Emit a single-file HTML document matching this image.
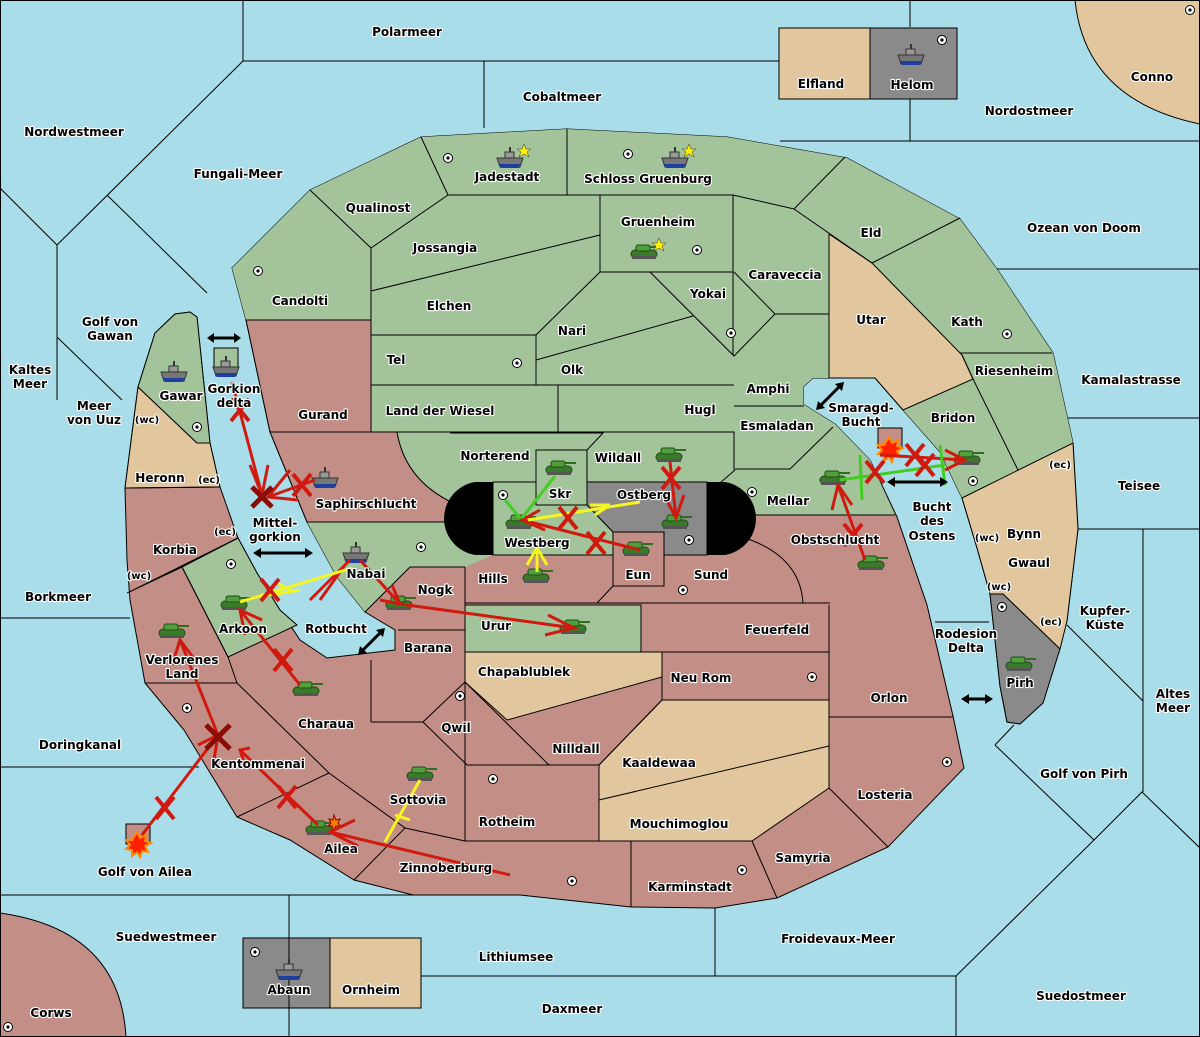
<!DOCTYPE html>
<html><head><meta charset="utf-8"><style>
html,body{margin:0;padding:0;background:#a9dde9;}
svg{display:block}
text{font-family:"DejaVu Sans","Liberation Sans",sans-serif;font-weight:bold;font-size:12px;fill:#000;stroke:#fff;stroke-width:2.2px;paint-order:stroke;stroke-linejoin:round;text-anchor:middle}
.s{font-size:10px}
.b{fill:none;stroke:#000;stroke-width:1}
</style></head><body>
<svg width="1200" height="1037" viewBox="0 0 1200 1037" xmlns="http://www.w3.org/2000/svg">
<defs>
<g id="tank"><rect x="-14" y="-3" width="26" height="8" rx="4" fill="#3a7a2a" stroke="#1f4d16"/><rect x="-9" y="-8" width="14" height="6" rx="2" fill="#4fa03a" stroke="#1f4d16"/><rect x="4" y="-7" width="12" height="2" fill="#2f6d22"/><rect x="-13" y="3" width="24" height="3" fill="#555"/></g>
<g id="ship"><path d="M-13,-2 L13,-2 L10,7 L-10,7 Z" fill="#777" stroke="#333"/><path d="M-11,4 L11,4 L9,8 L-9,8 Z" fill="#1d3f9e"/><rect x="-5" y="-8" width="9" height="6" fill="#999" stroke="#333"/><rect x="-1" y="-13" width="2" height="5" fill="#333"/></g>
<g id="sc"><circle r="4.5" fill="#fff" stroke="#000"/><circle r="1.6" fill="#000"/></g>
<g id="xr"><path d="M-9,-11 L9,11 M9,-11 L-9,11" stroke="#d01a10" stroke-width="4"/></g>
</defs>
<rect width="1200" height="1037" fill="#a9dde9"/>
<path d="M1075,0 Q1085,100 1200,124 L1200,0 Z" fill="#e2c79e" stroke="#000"/>
<path d="M0,913 Q120,930 126,1037 L0,1037 Z" fill="#c38e86" stroke="#000"/>
<rect x="779" y="28" width="91" height="71" fill="#e2c79e" stroke="#000"/>
<rect x="870" y="28" width="87" height="71" fill="#8a8a8a" stroke="#000"/>
<rect x="243" y="938" width="87" height="70" fill="#8a8a8a" stroke="#000"/>
<rect x="330" y="938" width="91" height="70" fill="#e2c79e" stroke="#000"/>
<g class="b">
<path d="M243,0V61H779M484,61V128M910,0V27M910,99V141M780,141H1200"/>
<path d="M243,61L57,245V400M57,245L0,188M107,195L207,293M57,337L122,400"/>
<path d="M995,269H1200M1068,418H1200M1078,529H1200M1143,529V792M1067,625L1143,701"/>
<path d="M0,618H130M0,767H199M0,895H417M289,895V1037M715,908V976M421,976H956M956,976L1094,840M956,976V1037M1094,840L995,745M1094,840L1142,792L1200,848M935,622H989M995,745L1014,725"/>
</g>
<path fill="#c38e86" stroke="#000" d="M232,268L310,190L421,137L567,129L727,137L847,158L960,219L997,269L1053,353L1073,443L1078,529L1067,621L1043,703L1020,724L1007,722L1000,686L990,594L977,548L962,498L940,452L903,410L875,378L813,378L803,387L803,404L835,424L870,460L897,517L927,605L953,716L964,768L888,847L777,898L715,908L631,907L520,895L413,895L354,880L290,840L237,817L184,730L145,683L130,600L127,560L125,488L135,410L138,387L155,333L175,314L190,312L197,317L210,443L220,487L238,538L257,573L280,610L300,640L327,658L395,650L395,630L365,612L337,577L307,522L270,432L246,320Z"/>
<path fill="#a3c49a" d="M232,268L310,190L421,137L567,129L727,137L847,158L960,219L997,269L1053,353L1073,443L1018,470L962,498L940,452L903,410L875,378L813,378L803,387L803,404L835,424L870,460L895,515L745,515L707,520L707,555L493,555L465,567L410,567L365,612L337,577L307,522L270,432L246,320Z"/>
<path fill="#c38e86" stroke="#000" d="M246,320L371,320L371,432L270,432Z"/>
<path fill="#c38e86" stroke="#000" d="M270,432L397,432Q405,480 453,503L455,522L307,522Z"/>
<path fill="#e2c79e" stroke="#000" d="M829,234L872,263L962,355L973,379L903,410L875,378L829,378Z"/>
<path fill="#e2c79e" stroke="#000" d="M962,498L1073,443L1078,529L1067,621L1060,649L1003,594L990,594L977,548Z"/>
<path fill="#8a8a8a" stroke="#000" d="M990,594L1003,594L1060,649L1043,703L1020,724L1007,722L1000,686Z"/>
<path fill="#e2c79e" stroke="#000" d="M138,387L197,443L210,443L220,487L125,488L135,410Z"/>
<path fill="#a3c49a" stroke="#000" d="M138,387L155,333L175,314L190,312L197,317L210,443L197,443Z"/>
<rect x="214" y="348" width="24" height="22" fill="#a3c49a" stroke="#000"/>
<path fill="#a3c49a" stroke="#000" d="M182,567L238,538L257,573L280,610L297,625L228,657Z"/>
<path fill="#a3c49a" stroke="#000" d="M465,605H641V652H465Z"/>
<path fill="#e2c79e" stroke="#000" d="M465,652H662V677L507,720L465,682Z"/>
<path fill="#e2c79e" stroke="#000" d="M662,700H829V788L752,841H599V765Z"/>
<g class="b">
<path d="M421,137L448,195H733L794,209L845,157M567,129V195M794,209L872,263L960,218M733,195V355M310,190L371,248L448,195M371,248V432M371,291L600,235M600,195V272H733M600,272L536,335H371M650,272L734,356L775,314L734,272M775,314H829M536,360L693,316M536,335V385M371,385H734M558,385V432M371,432H734V470M734,406H804M829,234V378M960,353H1052M1018,470L973,379M962,355L973,379"/>
<path d="M735,469H790L833,427M735,470L720,483M450,433H603L587,450M536,450H587V505H536Z"/>
<path d="M745,515H895M742,537Q800,555 803,603M465,567V603H830M597,603L613,586M641,605V652M465,652H829M829,605V717H953M662,652V700H829M829,700V788L888,847M599,800L829,746M752,841L777,898M631,841V907M465,841H752M599,765V841M465,600V841M467,765H549L599,765L662,700M465,682L549,765M423,722L465,682M423,722L467,765M371,722H423M371,660V722M398,630L465,630M410,567L365,612M410,567H465M237,683H145M237,683L329,773L237,817M329,773L405,828L354,880M405,828L465,841M127,593L182,567L228,657M125,488L220,487M127,593L238,538M228,657L237,683"/>
</g>
<path d="M493,482H475A37,37 0 0 0 475,555H493Z" fill="#000"/>
<path d="M707,482H725A37,37 0 0 1 725,555H707Z" fill="#000"/>
<path fill="#a3c49a" stroke="#000" d="M493,482H536V505H587L613,532V555H493Z"/>
<path fill="#a3c49a" stroke="#000" d="M536,450H587V505H536Z"/>
<path fill="#8a8a8a" stroke="#000" d="M587,482H707V555H664V532H613L587,505Z"/>
<path fill="#c38e86" stroke="#000" d="M613,532H664V586H613Z"/>
<g>
<use href="#sc" x="448" y="158"/><use href="#sc" x="628" y="154"/><use href="#sc" x="697" y="250"/><use href="#sc" x="258" y="271"/><use href="#sc" x="517" y="363"/><use href="#sc" x="731" y="333"/><use href="#sc" x="1007" y="334"/><use href="#sc" x="197" y="427"/><use href="#sc" x="503" y="495"/><use href="#sc" x="689" y="540"/><use href="#sc" x="752" y="492"/><use href="#sc" x="973" y="481"/><use href="#sc" x="421" y="547"/><use href="#sc" x="683" y="590"/><use href="#sc" x="1002" y="607"/><use href="#sc" x="231" y="564"/><use href="#sc" x="187" y="708"/><use href="#sc" x="460" y="696"/><use href="#sc" x="812" y="677"/><use href="#sc" x="493" y="779"/><use href="#sc" x="947" y="762"/><use href="#sc" x="572" y="881"/><use href="#sc" x="742" y="870"/><use href="#sc" x="942" y="40"/><use href="#sc" x="1190" y="10"/><use href="#sc" x="255" y="952"/><use href="#sc" x="8" y="1027"/>
</g>
<g>
<use href="#tank" x="645" y="253"/><use href="#tank" x="560" y="469"/><use href="#tank" x="670" y="456"/><use href="#tank" x="520" y="523"/><use href="#tank" x="676" y="523"/><use href="#tank" x="637" y="550"/><use href="#tank" x="537" y="577"/><use href="#tank" x="574" y="628"/><use href="#tank" x="400" y="604"/><use href="#tank" x="235" y="604"/><use href="#tank" x="173" y="632"/><use href="#tank" x="307" y="690"/><use href="#tank" x="834" y="479"/><use href="#tank" x="968" y="459"/><use href="#tank" x="872" y="564"/><use href="#tank" x="1020" y="665"/><use href="#tank" x="421" y="775"/><use href="#tank" x="320" y="829"/>
<use href="#ship" x="510" y="160"/><use href="#ship" x="675" y="160"/><use href="#ship" x="174" y="374"/><use href="#ship" x="226" y="369"/><use href="#ship" x="325" y="480"/><use href="#ship" x="356" y="555"/><use href="#ship" x="289" y="972"/><use href="#ship" x="911" y="57"/>
</g>
<path fill="#ffef00" stroke="#333" stroke-width=".5" d="M524,144l2,5h5l-4,3l2,5l-5,-3l-5,3l2,-5l-4,-3h5z M689,144l2,5h5l-4,3l2,5l-5,-3l-5,3l2,-5l-4,-3h5z M659,238l2,5h5l-4,3l2,5l-5,-3l-5,3l2,-5l-4,-3h5z"/>
<rect x="126" y="824" width="24" height="20" fill="#c38e86" stroke="#000"/>
<rect x="878" y="428" width="24" height="20" fill="#c38e86" stroke="#000"/>
<path fill="#ff2000" stroke="#ff8a00" stroke-width="2" d="M137,832l3,6l6,-3l-1,6l6,2l-6,3l3,6l-6,-1l-2,6l-3,-5l-5,4l0,-6l-6,-1l4,-4l-4,-5l6,0z M889,437l3,6l6,-3l-1,6l6,2l-6,3l3,6l-6,-1l-2,6l-3,-5l-5,4l0,-6l-6,-1l4,-4l-4,-5l6,0z"/>
<path fill="#ff7a00" stroke="#900" d="M334,815l2,5l4,-1l-2,4l3,3l-5,0l-2,4l-2,-4l-4,0l3,-3l-2,-4l4,1z"/>
<g stroke="#d01a10" stroke-width="3" fill="none">
<path d="M232,382L262,495M250,465L262,495L268,465"/>
<path d="M315,480L268,497M290,470L268,497L298,500"/>
<path d="M350,560L310,600M345,565L320,600"/>
<path d="M360,560L400,604M380,600L400,604L392,585M400,604L574,628M548,615L574,628L545,635"/>
<path d="M300,685L240,610M245,635L240,610L262,620"/>
<path d="M142,835L218,735M198,745L218,735L214,760M218,735L180,640M172,665L180,640L195,660"/>
<path d="M318,825L240,750M250,748L240,750L245,765"/>
<path d="M510,875L330,832M355,820L330,832L358,846"/>
<path d="M640,550L522,520M540,510L522,520L545,530"/>
<path d="M670,462L676,518M664,495L676,518L684,495"/>
<path d="M865,560L838,485M832,510L838,485L852,505"/>
<path d="M880,455L965,460M945,450L965,460L945,470"/>
</g>
<g stroke="#44cc22" stroke-width="3" fill="none"><path d="M555,476L522,518M505,500L520,518"/><path d="M840,480L945,465M860,455L862,500M940,445L945,485"/></g>
<g stroke="#f5f520" stroke-width="3" fill="none"><path d="M240,602L352,568M275,582L290,590M270,595L300,590"/><path d="M528,520L640,502M590,505L610,505M595,515L610,505"/><path d="M537,572L537,548M527,565L537,548L547,565"/><path d="M420,780L400,815L385,842M395,815L410,820"/></g>
<g><use href="#xr" x="270" y="590"/><use href="#xr" x="283" y="660"/><use href="#xr" x="165" y="808"/><use href="#xr" x="287" y="797"/><use href="#xr" x="302" y="485"/><use href="#xr" x="240" y="410"/><use href="#xr" x="568" y="518"/><use href="#xr" x="596" y="543"/><use href="#xr" x="671" y="478"/><use href="#xr" x="853" y="535"/><use href="#xr" x="875" y="472"/><use href="#xr" x="915" y="455"/><use href="#xr" x="925" y="465"/></g>
<path d="M206,725l24,24M230,725l-24,24" stroke="#8a0c05" stroke-width="5"/>
<path d="M252,487l20,20M272,487l-20,20" stroke="#8a0c05" stroke-width="5"/>
<g stroke="#000" stroke-width="3" fill="#000">
<path d="M212,338H236"/><path d="M258,553H308"/><path d="M362,651L381,632"/><path d="M820,406L840,386"/><path d="M892,482H943"/><path d="M966,699H988"/>
</g>
<g fill="#000"><path d="M207,338l7,-5v10z M241,338l-7,-5v10z M253,553l8,-5v10z M313,553l-8,-5v10z M358,655l2,-9l7,7z M385,628l-2,9l-7,-7z M816,410l2,-9l7,7z M844,382l-2,9l-7,-7z M887,482l8,-5v10z M948,482l-8,-5v10z M961,699l8,-5v10z M993,699l-8,-5v10z"/></g>
<g>
<text x="407" y="36">Polarmeer</text><text x="562" y="101">Cobaltmeer</text><text x="74" y="136">Nordwestmeer</text><text x="238" y="178">Fungali-Meer</text>
<text x="821" y="88">Elfland</text><text x="912" y="89">Helom</text><text x="1152" y="81">Conno</text><text x="1029" y="115">Nordostmeer</text>
<text x="507" y="181">Jadestadt</text><text x="648" y="183">Schloss Gruenburg</text><text x="378" y="212">Qualinost</text><text x="658" y="226">Gruenheim</text>
<text x="871" y="237">Eld</text><text x="1084" y="232">Ozean von Doom</text><text x="445" y="252">Jossangia</text><text x="785" y="279">Caraveccia</text>
<text x="300" y="305">Candolti</text><text x="449" y="310">Elchen</text><text x="708" y="298">Yokai</text><text x="871" y="324">Utar</text><text x="967" y="326">Kath</text>
<text x="110" y="326">Golf von</text><text x="110" y="340">Gawan</text><text x="572" y="335">Nari</text><text x="396" y="364">Tel</text><text x="572" y="374">Olk</text>
<text x="30" y="374">Kaltes</text><text x="30" y="388">Meer</text><text x="1014" y="375">Riesenheim</text><text x="1131" y="384">Kamalastrasse</text><text x="768" y="393">Amphi</text>
<text x="94" y="410">Meer</text><text x="94" y="424">von Uuz</text><text x="181" y="400">Gawar</text><text x="234" y="393">Gorkion</text><text x="234" y="407">delta</text>
<text x="323" y="419">Gurand</text><text x="440" y="415">Land der Wiesel</text><text x="700" y="414">Hugl</text><text x="861" y="412">Smaragd-</text><text x="861" y="426">Bucht</text>
<text x="953" y="422">Bridon</text><text class="s" x="147" y="423">(wc)</text><text x="777" y="430">Esmaladan</text><text x="495" y="460">Norterend</text><text x="618" y="462">Wildall</text>
<text x="160" y="482">Heronn</text><text class="s" x="209" y="483">(ec)</text><text class="s" x="1060" y="468">(ec)</text><text x="1139" y="490">Teisee</text>
<text x="560" y="498">Skr</text><text x="644" y="499">Ostberg</text><text x="366" y="508">Saphirschlucht</text><text x="788" y="505">Mellar</text>
<text x="932" y="511">Bucht</text><text x="932" y="525">des</text><text x="932" y="540">Ostens</text><text x="275" y="527">Mittel-</text><text x="275" y="541">gorkion</text>
<text class="s" x="225" y="535">(ec)</text><text x="175" y="554">Korbia</text><text x="537" y="547">Westberg</text><text x="835" y="544">Obstschlucht</text>
<text class="s" x="987" y="541">(wc)</text><text x="1024" y="538">Bynn</text><text x="1029" y="567">Gwaul</text><text x="366" y="578">Nabai</text><text class="s" x="139" y="579">(wc)</text>
<text x="638" y="579">Eun</text><text x="711" y="579">Sund</text><text x="493" y="583">Hills</text><text x="435" y="594">Nogk</text><text class="s" x="999" y="590">(wc)</text>
<text x="58" y="601">Borkmeer</text><text x="1105" y="615">Kupfer-</text><text x="1105" y="629">Küste</text><text class="s" x="1051" y="625">(ec)</text>
<text x="243" y="633">Arkoon</text><text x="336" y="633">Rotbucht</text><text x="496" y="630">Urur</text><text x="777" y="634">Feuerfeld</text>
<text x="966" y="638">Rodesion</text><text x="966" y="652">Delta</text><text x="428" y="652">Barana</text><text x="182" y="664">Verlorenes</text><text x="182" y="678">Land</text>
<text x="524" y="676">Chapablublek</text><text x="701" y="682">Neu Rom</text><text x="1020" y="687">Pirh</text><text x="889" y="702">Orlon</text>
<text x="1173" y="698">Altes</text><text x="1173" y="712">Meer</text><text x="326" y="728">Charaua</text><text x="456" y="732">Qwil</text><text x="80" y="749">Doringkanal</text>
<text x="576" y="753">Nilldall</text><text x="659" y="767">Kaaldewaa</text><text x="258" y="768">Kentommenai</text><text x="1084" y="778">Golf von Pirh</text>
<text x="885" y="799">Losteria</text><text x="418" y="804">Sottovia</text><text x="507" y="826">Rotheim</text><text x="679" y="828">Mouchimoglou</text>
<text x="341" y="853">Ailea</text><text x="803" y="862">Samyria</text><text x="446" y="872">Zinnoberburg</text><text x="145" y="876">Golf von Ailea</text>
<text x="690" y="891">Karminstadt</text><text x="166" y="941">Suedwestmeer</text><text x="838" y="943">Froidevaux-Meer</text><text x="516" y="961">Lithiumsee</text>
<text x="289" y="994">Abaun</text><text x="371" y="994">Ornheim</text><text x="1081" y="1000">Suedostmeer</text><text x="572" y="1013">Daxmeer</text><text x="51" y="1017">Corws</text>
</g>
<rect x="0.5" y="0.5" width="1199" height="1036" fill="none" stroke="#000"/>
</svg>
</body></html>
